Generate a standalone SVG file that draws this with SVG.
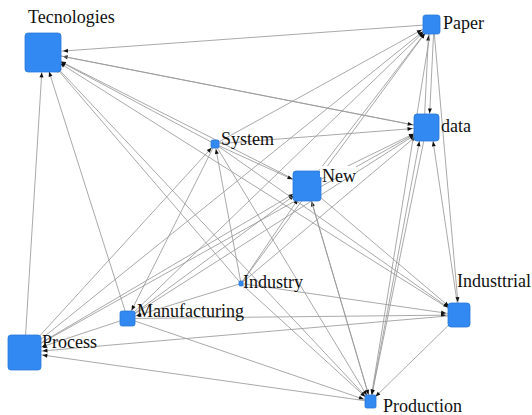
<svg xmlns="http://www.w3.org/2000/svg" width="532" height="415" viewBox="0 0 532 415">
<style>
.e line{stroke:#9a9a9a;stroke-width:0.85;fill:none}
.n rect{fill:#3289f2;stroke:#2a78d6;stroke-width:0.8}
.n rect.bg{fill:#fff;stroke:none}
.lbl{font-family:'Liberation Serif','Times New Roman',serif;font-size:18px;fill:#111}
marker path{fill:#111}
</style>
<defs>
<marker id="mT" markerUnits="userSpaceOnUse" markerWidth="5" markerHeight="4" refX="25" refY="2" orient="auto" overflow="visible"><path d="M0,0L5,2L0,4z"/></marker>
<marker id="mP" markerUnits="userSpaceOnUse" markerWidth="5" markerHeight="4" refX="16" refY="2" orient="auto" overflow="visible"><path d="M0,0L5,2L0,4z"/></marker>
<marker id="mD" markerUnits="userSpaceOnUse" markerWidth="5" markerHeight="4" refX="19" refY="2" orient="auto" overflow="visible"><path d="M0,0L5,2L0,4z"/></marker>
<marker id="mS" markerUnits="userSpaceOnUse" markerWidth="5" markerHeight="4" refX="10" refY="2" orient="auto" overflow="visible"><path d="M0,0L5,2L0,4z"/></marker>
<marker id="mN" markerUnits="userSpaceOnUse" markerWidth="5" markerHeight="4" refX="21" refY="2" orient="auto" overflow="visible"><path d="M0,0L5,2L0,4z"/></marker>
<marker id="mM" markerUnits="userSpaceOnUse" markerWidth="5" markerHeight="4" refX="14" refY="2" orient="auto" overflow="visible"><path d="M0,0L5,2L0,4z"/></marker>
<marker id="mPr" markerUnits="userSpaceOnUse" markerWidth="5" markerHeight="4" refX="23" refY="2" orient="auto" overflow="visible"><path d="M0,0L5,2L0,4z"/></marker>
<marker id="mIl" markerUnits="userSpaceOnUse" markerWidth="5" markerHeight="4" refX="18" refY="2" orient="auto" overflow="visible"><path d="M0,0L5,2L0,4z"/></marker>
<marker id="mPd" markerUnits="userSpaceOnUse" markerWidth="5" markerHeight="4" refX="12" refY="2" orient="auto" overflow="visible"><path d="M0,0L5,2L0,4z"/></marker>
</defs>
<rect width="532" height="415" fill="#fff"/>
<g id="connectors" class="e">
<line x1="431.5" y1="24.5" x2="43" y2="52.5" marker-end="url(#mT)"/>
<line x1="426.5" y1="127.5" x2="43" y2="52.5" marker-end="url(#mT)"/>
<line x1="215" y1="144" x2="43" y2="52.5" marker-end="url(#mT)"/>
<line x1="307" y1="186" x2="43" y2="52.5" marker-end="url(#mT)"/>
<line x1="241" y1="283.5" x2="43" y2="52.5" marker-end="url(#mT)"/>
<line x1="459" y1="315" x2="43" y2="52.5" marker-end="url(#mT)"/>
<line x1="370.5" y1="401.5" x2="43" y2="52.5" marker-end="url(#mT)"/>
<line x1="127.5" y1="318.5" x2="43" y2="52.5" marker-end="url(#mT)"/>
<line x1="24.5" y1="352.5" x2="43" y2="52.5" marker-end="url(#mT)"/>
<line x1="215" y1="144" x2="431.5" y2="24.5" marker-end="url(#mP)"/>
<line x1="307" y1="186" x2="431.5" y2="24.5" marker-end="url(#mP)"/>
<line x1="241" y1="283.5" x2="431.5" y2="24.5" marker-end="url(#mP)"/>
<line x1="127.5" y1="318.5" x2="431.5" y2="24.5" marker-end="url(#mP)"/>
<line x1="24.5" y1="352.5" x2="431.5" y2="24.5" marker-end="url(#mP)"/>
<line x1="424" y1="127.5" x2="429" y2="24.5" marker-end="url(#mP)"/>
<line x1="434" y1="24.5" x2="429" y2="127.5" marker-end="url(#mD)"/>
<line x1="215" y1="144" x2="426.5" y2="127.5" marker-end="url(#mD)"/>
<line x1="43" y1="52.5" x2="426.5" y2="127.5" marker-end="url(#mD)"/>
<line x1="307" y1="186" x2="426.5" y2="127.5" marker-end="url(#mD)"/>
<line x1="127.5" y1="318.5" x2="426.5" y2="127.5" marker-end="url(#mD)"/>
<line x1="24.5" y1="352.5" x2="426.5" y2="127.5" marker-end="url(#mD)"/>
<line x1="241" y1="283.5" x2="426.5" y2="127.5" marker-end="url(#mD)"/>
<line x1="370.5" y1="401.5" x2="422" y2="127.5" marker-end="url(#mD)"/>
<line x1="459" y1="315" x2="431" y2="127.5" marker-end="url(#mD)"/>
<line x1="215" y1="144" x2="307" y2="186" marker-end="url(#mN)"/>
<line x1="127.5" y1="318.5" x2="307" y2="186" marker-end="url(#mN)"/>
<line x1="24.5" y1="352.5" x2="307" y2="186" marker-end="url(#mN)"/>
<line x1="241" y1="283.5" x2="307" y2="186" marker-end="url(#mN)"/>
<line x1="370.5" y1="401.5" x2="307" y2="186" marker-end="url(#mN)"/>
<line x1="433.5" y1="24.5" x2="459" y2="315" marker-end="url(#mIl)"/>
<line x1="215" y1="144" x2="459" y2="315" marker-end="url(#mIl)"/>
<line x1="307" y1="186" x2="459" y2="315" marker-end="url(#mIl)"/>
<line x1="127.5" y1="318.5" x2="459" y2="315" marker-end="url(#mIl)"/>
<line x1="241" y1="283.5" x2="459" y2="315" marker-end="url(#mIl)"/>
<line x1="215" y1="144" x2="370.5" y2="401.5" marker-end="url(#mPd)"/>
<line x1="127.5" y1="318.5" x2="370.5" y2="401.5" marker-end="url(#mPd)"/>
<line x1="241" y1="283.5" x2="370.5" y2="401.5" marker-end="url(#mPd)"/>
<line x1="307" y1="186" x2="370.5" y2="401.5" marker-end="url(#mPd)"/>
<line x1="459" y1="315" x2="370.5" y2="401.5" marker-end="url(#mPd)"/>
<line x1="431.5" y1="24.5" x2="370.5" y2="401.5" marker-end="url(#mPd)"/>
<line x1="426.5" y1="127.5" x2="370.5" y2="401.5" marker-end="url(#mPd)"/>
<line x1="127.5" y1="318.5" x2="24.5" y2="352.5" marker-end="url(#mPr)"/>
<line x1="459" y1="315" x2="24.5" y2="352.5" marker-end="url(#mPr)"/>
<line x1="370.5" y1="401.5" x2="24.5" y2="352.5" marker-end="url(#mPr)"/>
<line x1="215" y1="144" x2="127.5" y2="318.5" marker-end="url(#mM)"/>
<line x1="241" y1="283.5" x2="127.5" y2="318.5" marker-end="url(#mM)"/>
<line x1="241" y1="283.5" x2="215" y2="144" marker-end="url(#mS)"/>
<line x1="24.5" y1="352.5" x2="215" y2="144" marker-end="url(#mS)"/>
</g>
<g id="node-tecnologies" class="n"><rect x="25" y="33" width="36" height="39" rx="3"/><text class="lbl" x="28" y="23">Tecnologies</text></g>
<g id="node-paper" class="n"><rect x="423" y="15" width="17" height="19" rx="2.5"/><text class="lbl" x="443" y="29">Paper</text></g>
<g id="node-data" class="n"><rect x="414" y="114" width="25" height="27" rx="3"/><text class="lbl" x="441" y="132">data</text></g>
<g id="node-system" class="n"><rect x="211" y="140" width="8" height="8" rx="1.5"/><text class="lbl" x="221" y="145">System</text></g>
<g id="node-new" class="n"><rect x="293" y="171" width="28" height="30" rx="3"/><rect class="bg" x="320" y="166" width="36" height="11"/><text class="lbl" x="322" y="182">New</text></g>
<g id="node-industry" class="n"><rect x="239" y="281" width="4" height="5" rx="1"/><text class="lbl" x="243" y="288">Industry</text></g>
<g id="node-manufacturing" class="n"><rect x="120" y="311" width="15" height="15" rx="2"/><text class="lbl" x="137" y="317">Manufacturing</text></g>
<g id="node-process" class="n"><rect x="8" y="335" width="33" height="35" rx="3"/><text class="lbl" x="42" y="348">Process</text></g>
<g id="node-industtrial" class="n"><rect x="448" y="303" width="22" height="24" rx="3"/><text class="lbl" x="457" y="287">Industtrial</text></g>
<g id="node-production" class="n"><rect x="365" y="395" width="11" height="13" rx="1.5"/><text class="lbl" x="383" y="412">Production</text></g>
</svg>
